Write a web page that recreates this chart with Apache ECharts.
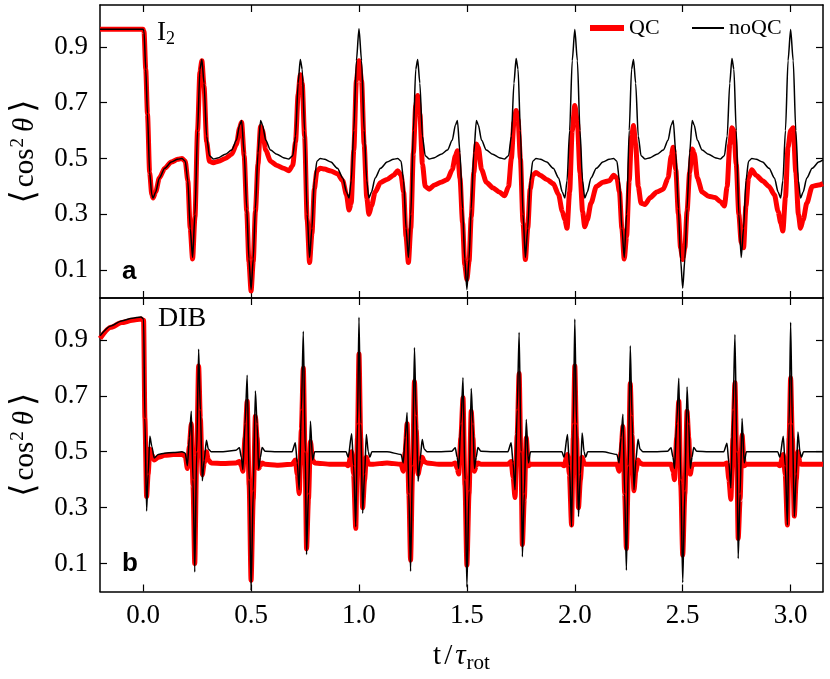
<!DOCTYPE html>
<html>
<head>
<meta charset="utf-8">
<title>cos2 theta alignment</title>
<script src="https://cdn.jsdelivr.net/npm/echarts@6.0.0/dist/echarts.min.js"></script>
<style>
  html, body { margin: 0; padding: 0; background: #fff; }
  #chart { width: 830px; height: 679px; }
</style>
</head>
<body>
<div id="chart"></div>
<script>
// --- data ---

// tick labels
const xTicks = [0.0, 0.5, 1.0, 1.5, 2.0, 2.5, 3.0];
const yTicks = [0.1, 0.3, 0.5, 0.7, 0.9];

// panel a (I2): time samples, QC and noQC
const aT = [
  -0.2, -0.1, 0.0, 0.004,
  0.012, 0.02, 0.03, 0.04, 0.046, 0.058, 0.075, 0.10, 0.13, 0.16, 0.18,
  0.195, 0.207, 0.218, 0.229, 0.24, 0.252, 0.263, 0.272, 0.282, 0.294, 0.307,
  0.325, 0.35, 0.38, 0.41, 0.432, 0.447, 0.456, 0.468, 0.48, 0.49, 0.50,
  0.51, 0.52, 0.532, 0.544, 0.553, 0.568, 0.59, 0.62, 0.65, 0.675,
  0.693, 0.706, 0.718, 0.728, 0.737, 0.748, 0.76, 0.771, 0.782, 0.793, 0.805,
  0.82, 0.84, 0.87, 0.90, 0.925, 0.942, 0.954, 0.964, 0.976, 0.988, 1.0,
  1.012, 1.024, 1.036, 1.046, 1.058, 1.075, 1.10, 1.13, 1.16, 1.18,
  1.195, 1.207, 1.218, 1.229, 1.24, 1.252, 1.263, 1.272, 1.282, 1.294, 1.307,
  1.325, 1.35, 1.38, 1.41, 1.432, 1.447, 1.456, 1.468, 1.48, 1.49, 1.50,
  1.51, 1.52, 1.532, 1.544, 1.553, 1.568, 1.59, 1.62, 1.65, 1.675,
  1.693, 1.706, 1.718, 1.728, 1.737, 1.748, 1.76, 1.771, 1.782, 1.793, 1.805,
  1.82, 1.84, 1.87, 1.90, 1.925, 1.942, 1.954, 1.964, 1.976, 1.988, 2.0,
  2.012, 2.024, 2.036, 2.046, 2.058, 2.075, 2.10, 2.13, 2.16, 2.18,
  2.195, 2.207, 2.218, 2.229, 2.24, 2.252, 2.263, 2.272, 2.282, 2.294, 2.307,
  2.325, 2.35, 2.38, 2.41, 2.432, 2.447, 2.456, 2.468, 2.48, 2.49, 2.50,
  2.51, 2.52, 2.532, 2.544, 2.553, 2.568, 2.59, 2.62, 2.65, 2.675,
  2.693, 2.706, 2.718, 2.728, 2.737, 2.748, 2.76, 2.771, 2.782, 2.793, 2.805,
  2.82, 2.84, 2.87, 2.90, 2.925, 2.942, 2.954, 2.964, 2.976, 2.988, 3.0,
  3.012, 3.024, 3.036, 3.046, 3.058, 3.075, 3.10, 3.13, 3.15
];
const aNoQC = [
  0.963, 0.963, 0.963, 0.955,
  0.82, 0.66, 0.45, 0.37, 0.358, 0.38, 0.43, 0.465, 0.487, 0.497, 0.50,
  0.49, 0.42, 0.25, 0.145, 0.30, 0.60, 0.82, 0.855, 0.77, 0.58, 0.51,
  0.498, 0.503, 0.515, 0.53, 0.565, 0.62, 0.636, 0.52, 0.32, 0.14, 0.03,
  0.14, 0.32, 0.52, 0.636, 0.62, 0.565, 0.53, 0.515, 0.503, 0.498,
  0.51, 0.58, 0.77, 0.855, 0.82, 0.60, 0.30, 0.145, 0.25, 0.42, 0.49,
  0.50, 0.497, 0.487, 0.465, 0.43, 0.38, 0.358, 0.42, 0.60, 0.85, 0.965,
  0.85, 0.60, 0.42, 0.358, 0.38, 0.43, 0.465, 0.487, 0.497, 0.50,
  0.49, 0.42, 0.25, 0.145, 0.30, 0.60, 0.82, 0.855, 0.77, 0.58, 0.51,
  0.498, 0.503, 0.515, 0.53, 0.565, 0.62, 0.636, 0.52, 0.32, 0.14, 0.03,
  0.14, 0.32, 0.52, 0.636, 0.62, 0.565, 0.53, 0.515, 0.503, 0.498,
  0.51, 0.58, 0.77, 0.858, 0.82, 0.60, 0.30, 0.145, 0.25, 0.42, 0.49,
  0.50, 0.497, 0.487, 0.465, 0.43, 0.38, 0.358, 0.42, 0.60, 0.85, 0.962,
  0.85, 0.60, 0.42, 0.358, 0.38, 0.43, 0.465, 0.487, 0.497, 0.50,
  0.49, 0.42, 0.25, 0.145, 0.30, 0.60, 0.82, 0.855, 0.77, 0.58, 0.51,
  0.498, 0.503, 0.515, 0.53, 0.565, 0.62, 0.636, 0.52, 0.32, 0.14, 0.035,
  0.14, 0.32, 0.52, 0.636, 0.62, 0.565, 0.53, 0.515, 0.503, 0.498,
  0.51, 0.58, 0.77, 0.858, 0.82, 0.60, 0.30, 0.145, 0.25, 0.42, 0.49,
  0.50, 0.497, 0.487, 0.465, 0.43, 0.38, 0.358, 0.42, 0.60, 0.85, 0.962,
  0.85, 0.60, 0.42, 0.358, 0.38, 0.43, 0.465, 0.487, 0.495
];
const aQC = [
  0.963, 0.963, 0.963, 0.955,
  0.82, 0.66, 0.45, 0.37, 0.358, 0.38, 0.43, 0.465, 0.487, 0.497, 0.50,
  0.49, 0.42, 0.25, 0.14, 0.29, 0.60, 0.81, 0.85, 0.76, 0.56, 0.49,
  0.485, 0.49, 0.50, 0.515, 0.55, 0.61, 0.63, 0.51, 0.31, 0.13, 0.025,
  0.13, 0.31, 0.48, 0.615, 0.60, 0.53, 0.49, 0.475, 0.465, 0.456,
  0.475, 0.56, 0.73, 0.80, 0.77, 0.58, 0.28, 0.127, 0.23, 0.39, 0.455,
  0.465, 0.462, 0.455, 0.445, 0.42, 0.37, 0.315, 0.34, 0.53, 0.78, 0.85,
  0.78, 0.55, 0.36, 0.30, 0.33, 0.38, 0.414, 0.425, 0.44, 0.456,
  0.44, 0.38, 0.22, 0.127, 0.25, 0.52, 0.69, 0.726, 0.66, 0.48, 0.40,
  0.39, 0.405, 0.415, 0.425, 0.46, 0.51, 0.528, 0.43, 0.27, 0.12, 0.066,
  0.13, 0.29, 0.45, 0.552, 0.54, 0.46, 0.415, 0.395, 0.38, 0.366,
  0.40, 0.50, 0.63, 0.672, 0.64, 0.50, 0.27, 0.138, 0.25, 0.39, 0.44,
  0.45, 0.44, 0.425, 0.41, 0.37, 0.31, 0.28, 0.25, 0.38, 0.60, 0.69,
  0.63, 0.45, 0.31, 0.255, 0.28, 0.34, 0.40, 0.415, 0.42, 0.44,
  0.43, 0.38, 0.25, 0.14, 0.22, 0.42, 0.58, 0.618, 0.55, 0.40, 0.34,
  0.335, 0.36, 0.38, 0.39, 0.43, 0.51, 0.54, 0.46, 0.30, 0.18, 0.138,
  0.18, 0.31, 0.45, 0.534, 0.52, 0.43, 0.38, 0.365, 0.36, 0.345,
  0.33, 0.40, 0.55, 0.61, 0.60, 0.48, 0.30, 0.20, 0.18, 0.33, 0.43,
  0.46, 0.44, 0.42, 0.40, 0.37, 0.31, 0.27, 0.24, 0.36, 0.54, 0.60,
  0.61, 0.45, 0.30, 0.25, 0.28, 0.34, 0.40, 0.405, 0.41
];

// panel b (DIB): time samples, QC and noQC
const bT = [
  -0.2, -0.15, -0.1, -0.05, -0.01, 0.002, 0.008, 0.016, 0.023, 0.031, 0.04, 0.051, 0.07, 0.1, 0.14, 0.18,
  0.195, 0.205, 0.214, 0.223, 0.231, 0.239, 0.248, 0.257, 0.265, 0.274, 0.283, 0.293, 0.302, 0.315,
  0.37, 0.43, 0.446, 0.455, 0.462, 0.472, 0.482, 0.491, 0.50, 0.51, 0.52, 0.528, 0.535, 0.543, 0.551, 0.565, 0.62,
  0.69, 0.705, 0.714, 0.723, 0.733, 0.742, 0.751, 0.757, 0.766, 0.775, 0.785, 0.795, 0.87,
  0.94, 0.95, 0.966, 0.975, 0.985, 0.993, 1.0, 1.008, 1.017, 1.026, 1.034, 1.043, 1.05, 1.06, 1.13,
  1.195, 1.205, 1.214, 1.223, 1.231, 1.239, 1.248, 1.257, 1.265, 1.274, 1.283, 1.293, 1.302, 1.315,
  1.37, 1.43, 1.446, 1.455, 1.462, 1.472, 1.482, 1.491, 1.50, 1.51, 1.52, 1.528, 1.535, 1.543, 1.551, 1.565, 1.62,
  1.69, 1.705, 1.714, 1.723, 1.733, 1.742, 1.751, 1.757, 1.766, 1.775, 1.785, 1.795, 1.87,
  1.94, 1.95, 1.966, 1.975, 1.985, 1.993, 2.0, 2.008, 2.017, 2.026, 2.034, 2.043, 2.05, 2.06, 2.13,
  2.195, 2.205, 2.214, 2.223, 2.231, 2.239, 2.248, 2.257, 2.265, 2.274, 2.283, 2.293, 2.302, 2.315,
  2.37, 2.43, 2.446, 2.455, 2.462, 2.472, 2.482, 2.491, 2.50, 2.51, 2.52, 2.528, 2.535, 2.543, 2.551, 2.565, 2.62,
  2.69, 2.705, 2.714, 2.723, 2.733, 2.742, 2.751, 2.757, 2.766, 2.775, 2.785, 2.795, 2.87,
  2.94, 2.95, 2.966, 2.975, 2.985, 2.993, 3.0, 3.008, 3.017, 3.026, 3.034, 3.043, 3.05, 3.06, 3.15
];
const bNoQC = [
  0.915, 0.95, 0.968, 0.978, 0.982, 0.975, 0.62, 0.288, 0.42, 0.555, 0.52, 0.478, 0.49, 0.495, 0.497, 0.50,
  0.495, 0.45, 0.55, 0.645, 0.40, 0.07, 0.50, 0.867, 0.65, 0.396, 0.47, 0.541, 0.51, 0.50,
  0.50, 0.505, 0.514, 0.48, 0.436, 0.60, 0.774, 0.40, 0.004, 0.36, 0.717, 0.60, 0.438, 0.48, 0.515, 0.502, 0.50,
  0.50, 0.532, 0.46, 0.364, 0.65, 0.931, 0.50, 0.132, 0.35, 0.609, 0.47, 0.50, 0.50,
  0.50, 0.48, 0.564, 0.45, 0.232, 0.60, 0.981, 0.60, 0.28, 0.42, 0.562, 0.50, 0.48, 0.50, 0.50,
  0.49, 0.46, 0.55, 0.64, 0.35, 0.072, 0.45, 0.873, 0.63, 0.394, 0.47, 0.544, 0.51, 0.50,
  0.50, 0.502, 0.514, 0.48, 0.44, 0.60, 0.765, 0.40, 0.016, 0.36, 0.726, 0.60, 0.44, 0.48, 0.515, 0.502, 0.50,
  0.50, 0.532, 0.46, 0.364, 0.65, 0.927, 0.50, 0.124, 0.35, 0.615, 0.46, 0.50, 0.50,
  0.50, 0.48, 0.562, 0.45, 0.232, 0.60, 0.975, 0.60, 0.268, 0.42, 0.567, 0.50, 0.48, 0.50, 0.50,
  0.49, 0.46, 0.55, 0.634, 0.35, 0.076, 0.45, 0.879, 0.63, 0.364, 0.47, 0.545, 0.51, 0.50,
  0.50, 0.502, 0.514, 0.48, 0.44, 0.60, 0.763, 0.40, 0.032, 0.36, 0.732, 0.60, 0.44, 0.48, 0.515, 0.502, 0.50,
  0.50, 0.53, 0.46, 0.37, 0.65, 0.919, 0.50, 0.118, 0.35, 0.619, 0.46, 0.50, 0.50,
  0.50, 0.48, 0.555, 0.45, 0.238, 0.60, 0.963, 0.60, 0.268, 0.42, 0.571, 0.50, 0.48, 0.50, 0.50
];
const bQC = [
  0.905, 0.945, 0.962, 0.970, 0.975, 0.97, 0.62, 0.34, 0.42, 0.51, 0.49, 0.47, 0.48, 0.487, 0.49, 0.49,
  0.485, 0.44, 0.52, 0.60, 0.38, 0.10, 0.48, 0.807, 0.62, 0.418, 0.46, 0.50, 0.47, 0.46,
  0.458, 0.46, 0.465, 0.45, 0.43, 0.55, 0.681, 0.38, 0.04, 0.33, 0.627, 0.55, 0.44, 0.45, 0.46, 0.455, 0.452,
  0.455, 0.47, 0.42, 0.35, 0.58, 0.80, 0.45, 0.153, 0.33, 0.537, 0.47, 0.46, 0.455,
  0.455, 0.45, 0.50, 0.42, 0.226, 0.55, 0.85, 0.55, 0.30, 0.40, 0.48, 0.46, 0.455, 0.455, 0.46,
  0.455, 0.43, 0.50, 0.60, 0.35, 0.112, 0.42, 0.751, 0.58, 0.42, 0.45, 0.48, 0.465, 0.46,
  0.455, 0.455, 0.46, 0.44, 0.42, 0.55, 0.693, 0.38, 0.094, 0.35, 0.645, 0.55, 0.43, 0.45, 0.46, 0.455, 0.455,
  0.455, 0.465, 0.41, 0.336, 0.56, 0.78, 0.45, 0.168, 0.33, 0.55, 0.45, 0.455, 0.455,
  0.455, 0.45, 0.49, 0.42, 0.238, 0.55, 0.807, 0.55, 0.30, 0.40, 0.48, 0.46, 0.455, 0.455, 0.455,
  0.455, 0.43, 0.50, 0.59, 0.35, 0.154, 0.42, 0.744, 0.56, 0.36, 0.43, 0.47, 0.46, 0.455,
  0.455, 0.455, 0.455, 0.43, 0.40, 0.55, 0.681, 0.38, 0.13, 0.35, 0.645, 0.55, 0.42, 0.45, 0.455, 0.455, 0.455,
  0.455, 0.46, 0.40, 0.33, 0.55, 0.747, 0.45, 0.19, 0.33, 0.56, 0.45, 0.455, 0.455,
  0.455, 0.45, 0.49, 0.42, 0.238, 0.55, 0.765, 0.55, 0.27, 0.40, 0.50, 0.46, 0.455, 0.455, 0.455
];

// --- chart ---

const SERIF = "'Liberation Serif', 'DejaVu Serif', serif";
const SANS = "'Liberation Sans', Arial, sans-serif";

function pairs(t, v) {
  if (t.length !== v.length) throw new Error('length mismatch ' + t.length + ' vs ' + v.length);
  return t.map((x, i) => [x, v[i]]);
}

function xAxisFor(gridIndex, position, showLabels) {
  return {
    type: 'value', gridIndex: gridIndex, position: position,
    min: -0.2, max: 3.15,
    axisLine: { show: true, onZero: false, lineStyle: { color: '#000', width: 1.5 } },
    axisTick: { show: true, inside: true, length: 7, customValues: xTicks, lineStyle: { color: '#000', width: 1.2 } },
    axisLabel: {
      show: showLabels, customValues: xTicks, margin: 11,
      formatter: v => v.toFixed(1),
      color: '#000', fontFamily: SERIF, fontSize: 27
    },
    splitLine: { show: false },
    name: showLabels ? 't{sl|/}{it|τ}{sub|rot}' : '',
    nameLocation: 'middle', nameGap: 47,
    nameTextStyle: {
      color: '#000', fontFamily: SERIF, fontSize: 29,
      rich: {
        sl: { fontFamily: SERIF, fontSize: 29, color: '#000', padding: [0, 3, 0, 3] },
        it: { fontFamily: SERIF, fontSize: 29, fontStyle: 'italic', color: '#000' },
        sub: { fontFamily: SERIF, fontSize: 21, color: '#000', padding: [14, 0, 0, 1] }
      }
    }
  };
}

function yAxisFor(gridIndex, position, showLabels) {
  return {
    type: 'value', gridIndex: gridIndex, position: position,
    min: 0, max: 1.05,
    axisLine: { show: true, onZero: false, lineStyle: { color: '#000', width: 1.5 } },
    axisTick: { show: true, inside: true, length: 7, customValues: yTicks, lineStyle: { color: '#000', width: 1.2 } },
    axisLabel: {
      show: showLabels, customValues: yTicks, margin: 12,
      formatter: v => v.toFixed(1),
      color: '#000', fontFamily: SERIF, fontSize: 27
    },
    splitLine: { show: false },
    name: showLabels ? '{br|⟨}cos{sup|2}{it|θ}{br|⟩}' : '',
    nameLocation: 'middle', nameGap: 58, nameRotate: 90,
    nameTextStyle: {
      color: '#000', fontFamily: SERIF, fontSize: 29,
      rich: {
        br: { fontFamily: SERIF, fontSize: 34, color: '#000', padding: [0, 3, 0, 3] },
        sup: { fontFamily: SERIF, fontSize: 19, color: '#000', padding: [0, 0, 13, 1] },
        it: { fontFamily: SERIF, fontSize: 29, fontStyle: 'italic', color: '#000', padding: [0, 2, 0, 6] }
      }
    }
  };
}

function lineSeries(name, xi, yi, data, color, width, z) {
  return {
    name: name, type: 'line', xAxisIndex: xi, yAxisIndex: yi,
    data: data, showSymbol: false, symbol: 'none',
    smooth: 0.25, smoothMonotone: 'x',
    lineStyle: { color: color, width: width },
    itemStyle: { color: color },
    z: z, animation: false
  };
}

const chart = echarts.init(document.getElementById('chart'), null, { renderer: 'canvas' });

chart.setOption({
  backgroundColor: '#fff',
  animation: false,
  grid: [
    { left: 99, right: 7, top: 5, height: 293 },
    { left: 99, right: 7, top: 298, height: 293.5 }
  ],
  xAxis: [
    xAxisFor(0, 'bottom', false),
    xAxisFor(0, 'top', false),
    xAxisFor(1, 'bottom', true),
    xAxisFor(1, 'top', false)
  ],
  yAxis: [
    yAxisFor(0, 'left', true),
    yAxisFor(0, 'right', false),
    yAxisFor(1, 'left', true),
    yAxisFor(1, 'right', false)
  ],
  legend: [
    {
      data: [{ name: 'QC', icon: 'rect' }], left: 590, top: 17, padding: 0,
      itemWidth: 34, itemHeight: 6, selectedMode: false,
      textStyle: { fontFamily: SERIF, fontSize: 22, color: '#000' }
    },
    {
      data: [{ name: 'noQC', icon: 'rect' }], left: 692, top: 17, padding: 0,
      itemWidth: 32, itemHeight: 2, selectedMode: false,
      textStyle: { fontFamily: SERIF, fontSize: 22, color: '#000' }
    }
  ],
  title: [
    { text: 'I{sub|2}', left: 157, top: 17, padding: 0,
      textStyle: { fontFamily: SERIF, fontSize: 27, fontWeight: 'normal', color: '#000',
        rich: { sub: { fontFamily: SERIF, fontSize: 18, color: '#000', padding: [13, 0, 0, 0] } } } },
    { text: 'DIB', left: 158, top: 305, padding: 0,
      textStyle: { fontFamily: SERIF, fontSize: 28, fontWeight: 'normal', color: '#000' } },
    { text: 'a', left: 122, top: 259, padding: 0,
      textStyle: { fontFamily: SANS, fontSize: 26, fontWeight: 'bold', color: '#000' } },
    { text: 'b', left: 122, top: 551, padding: 0,
      textStyle: { fontFamily: SANS, fontSize: 26, fontWeight: 'bold', color: '#000' } }
  ],
  series: [
    lineSeries('QC', 0, 0, pairs(aT, aQC), '#ff0000', 5, 2),
    lineSeries('noQC', 0, 0, pairs(aT, aNoQC), '#000000', 1.5, 3),
    lineSeries('QC', 2, 2, pairs(bT, bQC), '#ff0000', 5, 2),
    lineSeries('noQC', 2, 2, pairs(bT, bNoQC), '#000000', 1.5, 3)
  ]
});

window.addEventListener('resize', () => chart.resize());
</script>
</body>
</html>
